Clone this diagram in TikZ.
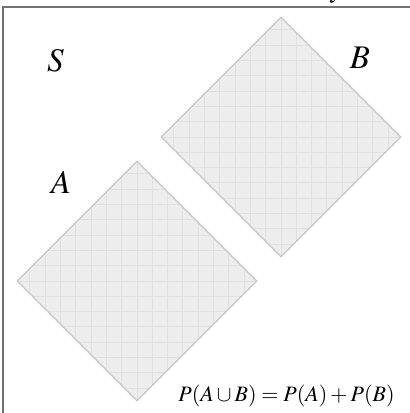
\documentclass[tikz,border=0pt]{standalone}
\usepackage{amsmath}
\usepackage{mathptmx}
\usetikzlibrary{shapes.geometric}
\tikzset{
  frame/.style={draw=black!55, line width=1.2pt},
  gridline/.style={draw=black!12, line width=0.45pt},
  setbox/.style={diamond, draw=black!22, fill=black!7, line width=0.55pt,
    inner sep=0pt, minimum width=120pt, minimum height=120pt,
    path picture={\draw[gridline] (path picture bounding box.south west)
      grid[step=15.3] (path picture bounding box.north east);}},
  setlabel/.style={inner sep=0pt, font=\fontsize{16.5}{20}\selectfont},
  formula/.style={inner sep=0pt, font=\fontsize{11}{14}\selectfont}
}

\begin{document}
\begin{tikzpicture}[x=0.5pt,y=0.5pt]
\useasboundingbox (0,0) rectangle (409,413);

% ------------------------------------------------------------------
% sample space
% ------------------------------------------------------------------
\draw[frame] (3,406) rectangle (416,-6);
\node[setlabel, anchor=base] (title) at (338,416) {$y$};
\node[setlabel] (labelS) at (55.5,352) {$S$};

% ------------------------------------------------------------------
% disjoint events
% ------------------------------------------------------------------
\node[setbox] (setA) at (137,132) {};
\node[setbox] (setB) at (281,276) {};
\node[setlabel] (labelA) at (61,230.5) {$A$};
\node[setlabel] (labelB) at (360,355) {$B$};

\node[formula, anchor=base] (rule) at (286.5,11)
  {$P(A\cup B)=P(A)+P(B)$};

\end{tikzpicture}
\end{document}
